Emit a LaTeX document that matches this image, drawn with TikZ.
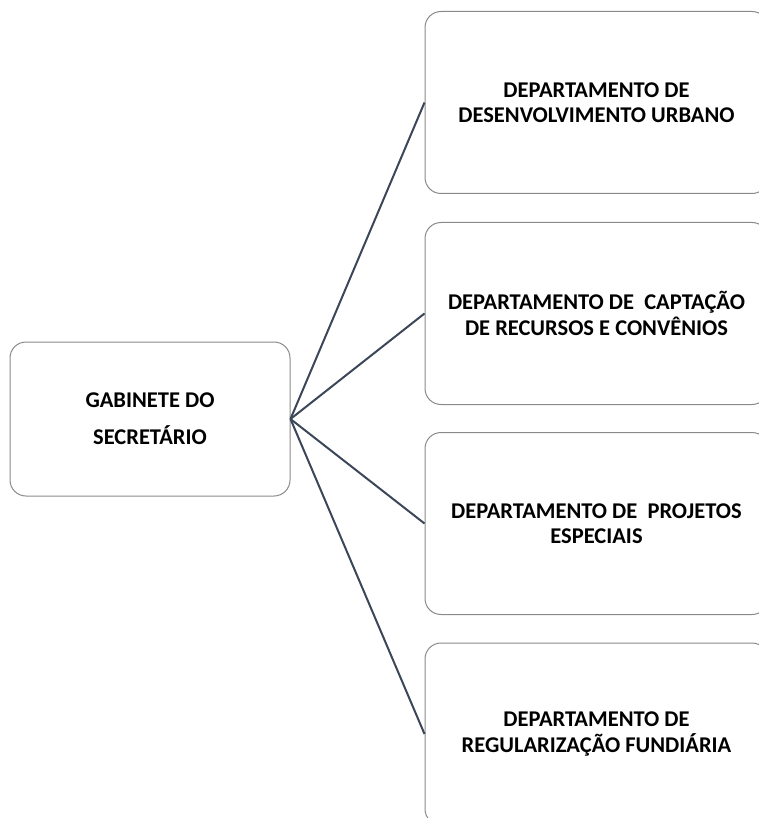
\documentclass[tikz,border=0pt]{standalone}
\usepackage{fontspec}
\setmainfont{Carlito}
\definecolor{boxline}{HTML}{8A8A8A}
\definecolor{linkline}{HTML}{3B4759}
\begin{document}
\begin{tikzpicture}[x=1pt,y=-1pt,
  orgbox/.style={draw=boxline, line width=1pt, rounded corners=16pt, fill=white,
    align=center, inner sep=0pt, text=black},
  dept/.style={orgbox, minimum width=343pt, minimum height=182pt,
    font=\fontsize{22.5}{25.5}\selectfont\bfseries},
  chief/.style={orgbox, minimum width=280pt, minimum height=154pt,
    font=\fontsize{22.5}{37}\selectfont\bfseries},
  link/.style={draw=linkline, line width=2pt}]
  \useasboundingbox (0,0) rectangle (758,818);

  \node[chief] (gab) at (150,419) {GABINETE DO\\SECRETÁRIO};

  \node[dept] (d1) at (596.5,102.5) {DEPARTAMENTO DE\\DESENVOLVIMENTO URBANO};
  \node[dept] (d2) at (596.5,313.5) {DEPARTAMENTO DE\ \ CAPTAÇÃO\\DE RECURSOS E CONVÊNIOS};
  \node[dept] (d3) at (596.5,523.5) {DEPARTAMENTO DE\ \ PROJETOS\\ESPECIAIS};
  \node[dept] (d4) at (596.5,734) {DEPARTAMENTO DE\\REGULARIZAÇÃO FUNDIÁRIA};

  \foreach \d in {d1,d2,d3,d4}
    \draw[link] (gab.east) -- (\d.west);
\end{tikzpicture}
\end{document}
